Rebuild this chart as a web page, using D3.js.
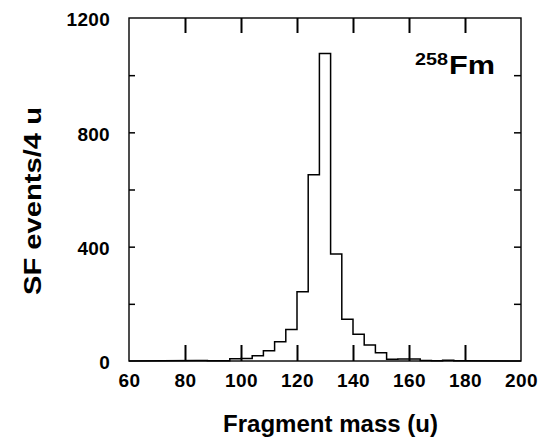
<!DOCTYPE html>
<html>
<head>
<meta charset="utf-8">
<script src="https://cdn.jsdelivr.net/npm/d3@7"></script>
<style>
  html, body { margin: 0; padding: 0; background: #fff; }
  svg text { font-family: "Liberation Sans", Arial, Helvetica, sans-serif; font-weight: bold; fill: #000; }
</style>
</head>
<body>
<svg id="chart" width="539" height="444"></svg>
<script>
// ---- data ----
const binStarts = [84, 88, 92, 96, 100, 104, 108, 112, 116, 120, 124, 128, 132, 136, 140, 144, 148, 152, 156, 160, 164, 168, 172, 176];
const counts    = [2, 1, 1, 8, 9, 18, 36, 67, 110, 242, 652, 1076, 374, 146, 94, 56, 29, 6, 7, 7, 2, 1, 3, 1];
const binWidth = 4;
const xTickLabels = [60, 80, 100, 120, 140, 160, 180, 200];
const yTickLabels = [0, 400, 800, 1200];
const yMinorTicks = [0, 200, 400, 600, 800, 1000, 1200];
const xInnerTicks = [80, 100, 120, 140, 160, 180];
const xTitle = "Fragment mass (u)";
const yTitle = "SF events/4 u";
const nuclideMass = "258";
const nuclideSymbol = "Fm";

// ---- layout ----
const svg = d3.select("#chart");
const L = 129, R = 521, T = 18, B = 361;
const x = d3.scaleLinear().domain([60, 200]).range([L, R]);
const y = d3.scaleLinear().domain([0, 1200]).range([B, T]);

const g = svg.append("g");

// frame
g.append("rect")
  .attr("x", L).attr("y", T).attr("width", R - L).attr("height", B - T)
  .attr("fill", "none").attr("stroke", "#000").attr("stroke-width", 1.4);

// bottom axis: inward ticks + labels
const axBottom = g.append("g").attr("transform", `translate(0,${B})`)
  .call(d3.axisBottom(x).tickValues(xTickLabels).tickSizeInner(-16).tickSizeOuter(0).tickPadding(13)
        .tickFormat(d3.format("d")));
axBottom.select(".domain").remove();
axBottom.selectAll(".tick line").attr("stroke", "#000").attr("stroke-width", 2)
  .filter(d => d === 60 || d === 200).remove();
axBottom.selectAll(".tick text").attr("font-size", 19).style("letter-spacing", "0.5px")
  .attr("fill", "#000");

// top axis
const axTop = g.append("g").attr("transform", `translate(0,${T})`)
  .call(d3.axisTop(x).tickValues(xInnerTicks).tickSizeInner(-15).tickSizeOuter(0).tickFormat(""));
axTop.select(".domain").remove();
axTop.selectAll(".tick line").attr("stroke", "#000").attr("stroke-width", 2);

// left axis
const axLeft = g.append("g").attr("transform", `translate(${L},0)`)
  .call(d3.axisLeft(y).tickValues(yMinorTicks).tickSizeInner(-6).tickSizeOuter(0).tickPadding(19)
        .tickFormat(d => yTickLabels.includes(d) ? d3.format("d")(d) : ""));
axLeft.select(".domain").remove();
axLeft.selectAll(".tick line").attr("stroke", "#000").attr("stroke-width", 1.5)
  .filter(d => d === 0 || d === 1200).remove();
axLeft.selectAll(".tick text").attr("font-size", 19).style("letter-spacing", "0.3px")
  .attr("fill", "#000").attr("dy", "0.42em");

// right axis
const axRight = g.append("g").attr("transform", `translate(${R},0)`)
  .call(d3.axisRight(y).tickValues(yMinorTicks.filter(d => d > 0 && d < 1200)).tickSizeInner(-7).tickSizeOuter(0).tickFormat(""));
axRight.select(".domain").remove();
axRight.selectAll(".tick line").attr("stroke", "#000").attr("stroke-width", 1.5);

// histogram step outline
const pts = [[60, 0]];
binStarts.forEach((s, i) => {
  pts.push([s, counts[i]]);
  pts.push([s + binWidth, counts[i]]);
});
pts.push([200, 0]);
const line = d3.line().x(d => x(d[0])).y(d => y(d[1]));
g.append("path").datum(pts)
  .attr("d", line)
  .attr("fill", "none").attr("stroke", "#000").attr("stroke-width", 1.5)
  .attr("stroke-linejoin", "miter");

// nuclide label
g.append("text").attr("x", 415).attr("y", 65)
  .attr("font-size", 17).attr("textLength", 33).attr("lengthAdjust", "spacingAndGlyphs")
  .text(nuclideMass);
g.append("text").attr("x", 449).attr("y", 74)
  .attr("font-size", 25).attr("textLength", 46).attr("lengthAdjust", "spacingAndGlyphs")
  .text(nuclideSymbol);

// axis titles
g.append("text").attr("x", (223 + 438) / 2).attr("y", 432)
  .attr("text-anchor", "middle").attr("font-size", 23)
  .attr("textLength", 215).attr("lengthAdjust", "spacingAndGlyphs")
  .text(xTitle);

g.append("text").attr("transform", "translate(41,201) rotate(-90)")
  .attr("text-anchor", "middle").attr("font-size", 24)
  .attr("textLength", 188).attr("lengthAdjust", "spacingAndGlyphs")
  .text(yTitle);
</script>
</body>
</html>
